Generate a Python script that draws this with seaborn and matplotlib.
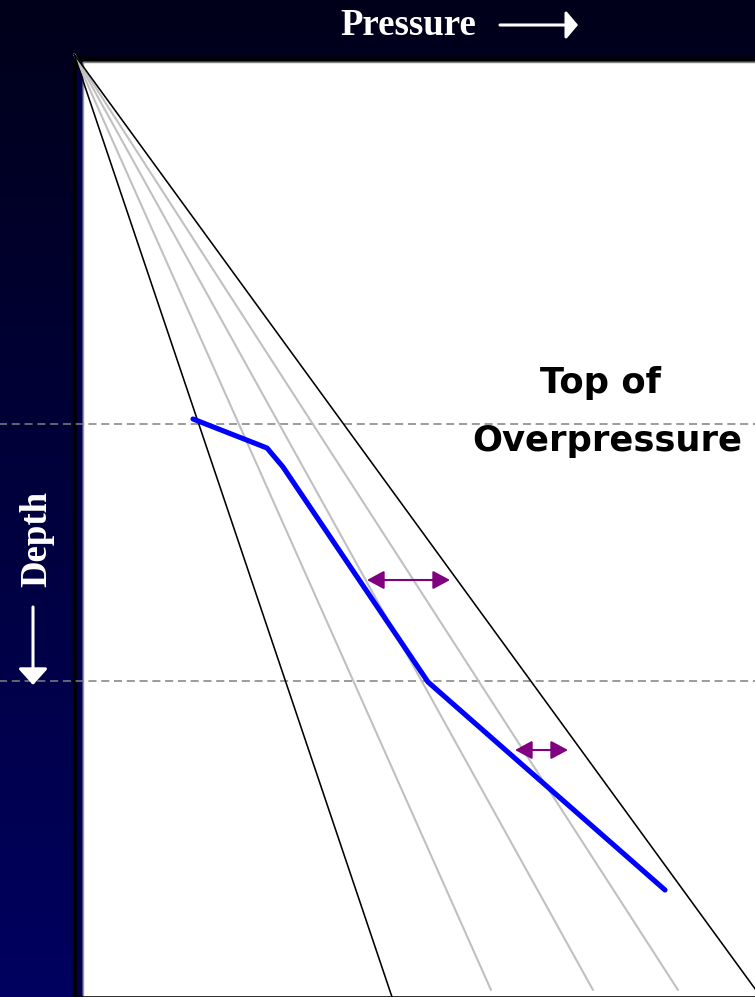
import numpy as np
import pandas as pd
import matplotlib
matplotlib.use("Agg")
import matplotlib.pyplot as plt
from matplotlib.colors import LinearSegmentedColormap
from matplotlib.patches import Rectangle
import seaborn as sns

# Pressure/depth schematic: origin at surface, depth increases downward.
DEPTH_END = 943          # depth reached by the two bounding gradients
TREND_DEPTH_END = 936    # depth reached by the intermediate gradients

# Bounding gradients (hydrostatic on the left, overburden on the right)
bound_names = ["hydrostatic", "overburden"]
bound_pressure_end = [318, 687]

# Intermediate pressure gradients (light grey fan)
trend_names = ["trend_1", "trend_2", "trend_3"]
trend_pressure_end = [417, 519, 604]

# Measured pore-pressure profile
profile_pressure = [119, 193, 209, 354, 591]
profile_depth = [365, 394, 413, 628, 836]

# Horizontal reference depths (top of overpressure and a deeper marker)
marker_depths = [370, 627]

# Double-headed arrows showing pressure offset: (depth, from pressure, to pressure)
offset_depths = [526, 696]
offset_from = [293, 441]
offset_to = [376, 494]

sns.set_theme(style="white")
plt.rcParams["lines.scale_dashes"] = False

fig = plt.figure(figsize=(7.55, 9.97), dpi=100)

# Navy gradient background
bg = fig.add_axes([0, 0, 1, 1])
bg.set_axis_off()
navy = LinearSegmentedColormap.from_list("navy", ["#00001a", "#000060"])
bg.imshow(np.linspace(0, 1, 256)[:, None], aspect="auto", cmap=navy,
          extent=[0, 1, 0, 1], origin="upper")

ax = fig.add_axes([0, 0, 1, 1])
ax.set_facecolor("none")

# White chart panel with a dark frame
ax.add_patch(Rectangle((-1, 3), 690, 945, color="black", zorder=1))
ax.add_patch(Rectangle((3, 8), 6, 933, color="#00004c", zorder=1.1))
ax.add_patch(Rectangle((9, 8), 680, 933, color="white", zorder=1.2))
ax.plot([9, 690], [7.6, 7.6], color="#808080", lw=1, zorder=1.3)
ax.plot([8.6, 8.6], [8, 941], color="#9a9a9a", lw=1, zorder=1.3)

# Reference depth markers
for d in marker_depths:
    ax.plot([-80, 690], [d, d], color="#808080", lw=1.1,
            dashes=(5.8, 3.4), zorder=2, clip_on=False)

# Gradient fan from the origin
trend_df = pd.DataFrame({
    "pressure": [v for p in trend_pressure_end for v in (0, p)],
    "depth": [v for _ in trend_pressure_end for v in (0, TREND_DEPTH_END)],
    "line": [n for n in trend_names for _ in range(2)],
})
sns.lineplot(data=trend_df, x="pressure", y="depth", units="line",
             estimator=None, sort=False, color="#c0c0c0", lw=1.5,
             ax=ax, zorder=3)

bound_df = pd.DataFrame({
    "pressure": [v for p in bound_pressure_end for v in (0, p)],
    "depth": [v for _ in bound_pressure_end for v in (0, DEPTH_END)],
    "line": [n for n in bound_names for _ in range(2)],
})
sns.lineplot(data=bound_df, x="pressure", y="depth", units="line",
             estimator=None, sort=False, color="black", lw=1.15,
             ax=ax, zorder=4)

# Pore-pressure profile
sns.lineplot(x=profile_pressure, y=profile_depth, estimator=None, sort=False,
             color="#0000ff", lw=3.7, ax=ax, zorder=5)

# Pressure offset arrows
for d, p0, p1 in zip(offset_depths, offset_from, offset_to):
    ax.annotate("", xy=(p1, d), xytext=(p0, d), zorder=6,
                arrowprops=dict(arrowstyle="<|-|>,head_length=0.52,head_width=0.28",
                                mutation_scale=20, color="#800080", lw=1.5,
                                shrinkA=0, shrinkB=0))

# Labels
ax.text(526, 339, "Top of", ha="center", va="baseline", fontsize=25.5,
        fontweight="bold", family="DejaVu Sans", color="black", zorder=7)
ax.text(533, 397, "Overpressure", ha="center", va="baseline", fontsize=25.5,
        fontweight="bold", family="DejaVu Sans", color="black", zorder=7)

ax.text(334, -19, "Pressure", ha="center", va="baseline", fontsize=26.5,
        fontweight="bold", family="Liberation Serif", color="white", zorder=7)
ax.annotate("", xy=(504, -29), xytext=(426, -29), zorder=7, annotation_clip=False,
            arrowprops=dict(arrowstyle="-|>,head_length=0.36,head_width=0.43",
                            mutation_scale=20, color="white", lw=2.2,
                            shrinkA=0, shrinkB=0))

ax.text(-37, 485, "Depth", ha="center", va="center", rotation=90, fontsize=26.5,
        fontweight="bold", family="Liberation Serif", color="white", zorder=7)
ax.annotate("", xy=(-41, 631), xytext=(-41, 553), zorder=7, annotation_clip=False,
            arrowprops=dict(arrowstyle="-|>,head_length=0.5,head_width=0.45",
                            mutation_scale=20, color="white", lw=2.2,
                            shrinkA=0, shrinkB=0))

ax.set_xlim(-74, 681)
ax.set_ylim(943, -54)
ax.set_axis_off()

fig.savefig("out.png", dpi=100)
